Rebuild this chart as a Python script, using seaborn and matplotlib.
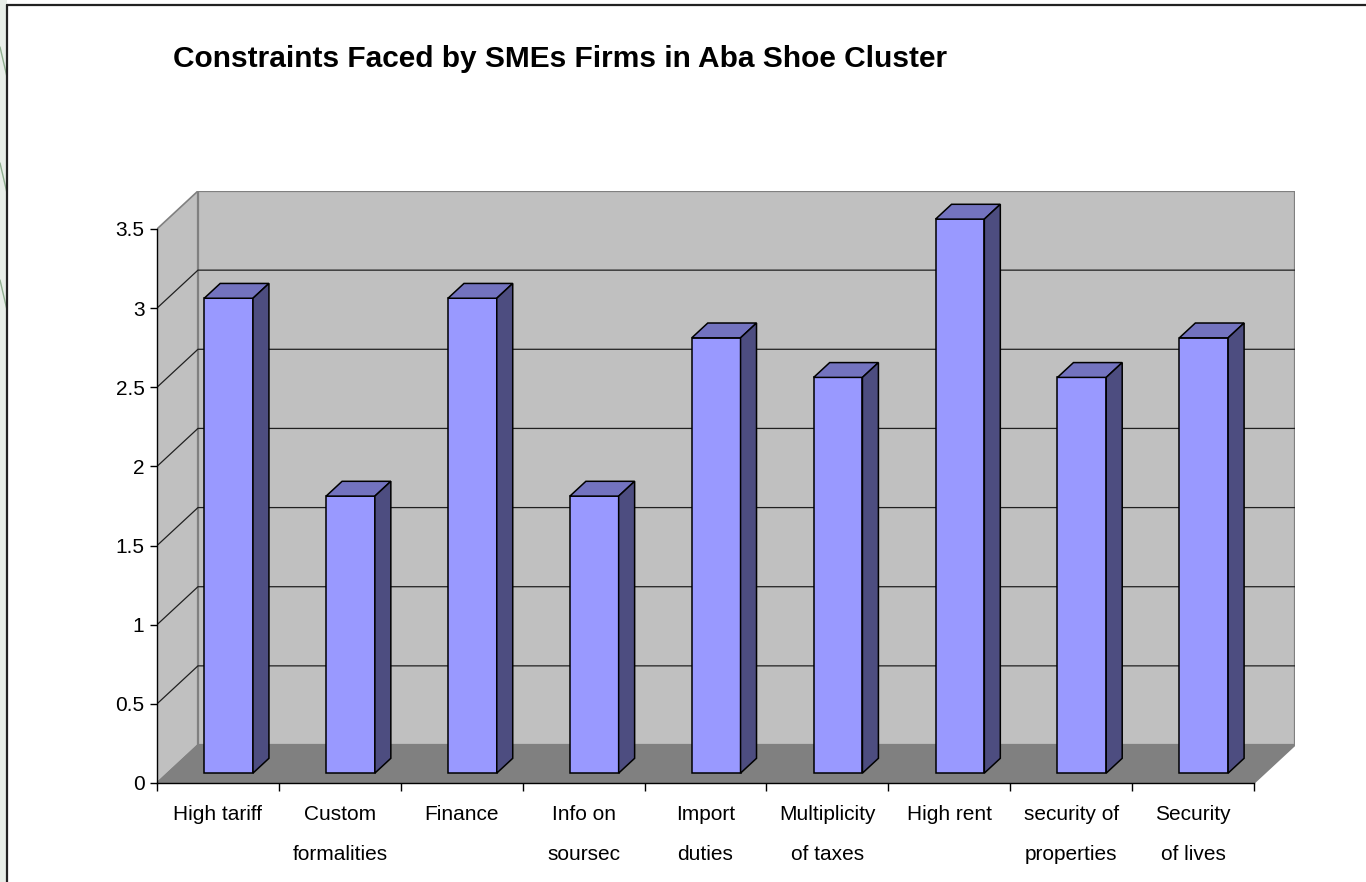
import numpy as np
import pandas as pd
import matplotlib
matplotlib.use("Agg")
import matplotlib.pyplot as plt
from matplotlib.patches import Polygon, Rectangle
from matplotlib.lines import Line2D
import seaborn as sns

# ---- data ----
categories = ["High tariff", "Custom\nformalities", "Finance", "Info on\nsoursec",
              "Import\nduties", "Multiplicity\nof taxes", "High rent",
              "security of\nproperties", "Security\nof lives"]
values = [3.0, 1.75, 3.0, 1.75, 2.75, 2.5, 3.5, 2.5, 2.75]
y_ticks = [0, 0.5, 1, 1.5, 2, 2.5, 3, 3.5]
y_tick_labels = ["0", "0.5", "1", "1.5", "2", "2.5", "3", "3.5"]
title = "Constraints Faced by SMEs Firms in Aba Shoe Cluster"

# ---- style ----
W, H = 1366, 882
sns.set_theme(style="white")
plt.rcParams['font.family'] = ['Liberation Sans', 'DejaVu Sans']

FRONT = "#9999FF"
TOP = "#7373BF"
SIDE = "#4D4D80"
WALL = "#C0C0C0"
FLOOR = "#808080"
WALL_EDGE = "#808080"

fig = plt.figure(figsize=(W / 100, H / 100), dpi=100)
fig.patch.set_facecolor("white")

# decorative slide strip at left
fig.add_artist(Rectangle((0, 0), 7 / W, 1, transform=fig.transFigure,
                         facecolor="#E8EEE8", edgecolor="none", zorder=0))
for y0 in [47, 163, 280]:
    fig.add_artist(Line2D([0, 7 / W], [1 - y0 / H, 1 - (y0 + 30) / H],
                          transform=fig.transFigure, color="#8FAF8F", lw=1.0))
fig.add_artist(Line2D([7 / W, 7 / W], [0, 1 - 5 / H], transform=fig.transFigure,
                      color="#222222", lw=1.6))
fig.add_artist(Line2D([7 / W, 1], [1 - 5 / H, 1 - 5 / H], transform=fig.transFigure,
                      color="#222222", lw=1.6))

ax = fig.add_axes([157 / W, 1 - 783 / H, (1295 - 157) / W, (783 - 191) / H])
ax.patch.set_alpha(0)

df = pd.DataFrame({"cat": categories, "val": values})
sns.barplot(data=df, x="cat", y="val", width=0.40, color=FRONT, saturation=1,
            edgecolor="black", linewidth=1.1, ax=ax, zorder=4)

n = len(categories)
ymax = y_ticks[-1]
ddx, ddy = 0.336, 0.24   # depth vector in data units
ax.set_xlim(-0.5, n - 0.5 + ddx)
ax.set_ylim(0, ymax + ddy)

xl, xr = -0.5, n - 0.5
# walls and floor
ax.add_patch(Polygon([(xl, 0), (xl, ymax), (xl + ddx, ymax + ddy), (xl + ddx, ddy)],
                     closed=True, facecolor=WALL, edgecolor=WALL_EDGE, lw=1.2, zorder=0.5))
ax.add_patch(Polygon([(xl + ddx, ddy), (xr + ddx, ddy), (xr + ddx, ymax + ddy), (xl + ddx, ymax + ddy)],
                     closed=True, facecolor=WALL, edgecolor=WALL_EDGE, lw=1.6, zorder=0.5))
ax.add_patch(Polygon([(xl, 0), (xr, 0), (xr + ddx, ddy), (xl + ddx, ddy)],
                     closed=True, facecolor=FLOOR, edgecolor=WALL_EDGE, lw=1.2, zorder=0.6))
# gridlines
for v in y_ticks[1:-1]:
    ax.plot([xl, xl + ddx, xr + ddx], [v, v + ddy, v + ddy], color="#202020", lw=0.9, zorder=1)

# 3D faces of bars
f, b = 0.26, 0.39
for p in list(ax.patches):
    if not isinstance(p, Rectangle):
        continue
    x0 = p.get_x() + f * ddx
    y0 = f * ddy
    w = p.get_width()
    h = p.get_height()
    p.set_x(x0)
    p.set_y(y0)
    top = [(x0, y0 + h), (x0 + w, y0 + h), (x0 + w + b * ddx, y0 + h + b * ddy), (x0 + b * ddx, y0 + h + b * ddy)]
    side = [(x0 + w, y0), (x0 + w + b * ddx, y0 + b * ddy), (x0 + w + b * ddx, y0 + h + b * ddy), (x0 + w, y0 + h)]
    ax.add_patch(Polygon(top, closed=True, facecolor=TOP, edgecolor="black", lw=1.1, zorder=4))
    ax.add_patch(Polygon(side, closed=True, facecolor=SIDE, edgecolor="black", lw=1.1, zorder=4))

# axes
for s in ["top", "right"]:
    ax.spines[s].set_visible(False)
ax.spines["left"].set_bounds(0, ymax)
ax.spines["bottom"].set_bounds(xl, xr)
for s in ["left", "bottom"]:
    ax.spines[s].set_color("black")
    ax.spines[s].set_linewidth(1.0)
    ax.spines[s].set_zorder(5)

ax.set_yticks(y_ticks, y_tick_labels)
ax.set_xticks(range(n), categories)
ax.set_xticks(np.arange(-0.5, n, 1.0), minor=True)
ax.tick_params(axis="y", left=True, direction="out", length=5, width=1, color="black",
               labelsize=15, pad=4, labelcolor="black")
ax.tick_params(axis="x", which="major", bottom=True, length=0, labelsize=15, pad=16, labelcolor="black")
ax.tick_params(axis="x", which="minor", bottom=True, direction="out", length=5.5, width=1, color="black")
for lbl in ax.get_xticklabels():
    lbl.set_linespacing(2.4)
ax.set_xlabel("")
ax.set_ylabel("")

fig.text(173 / W, 1 - 59 / H, title, fontsize=21.5, fontweight="bold", va="center", ha="left",
         color="black")

fig.savefig("out.png", dpi=100, facecolor="white")
